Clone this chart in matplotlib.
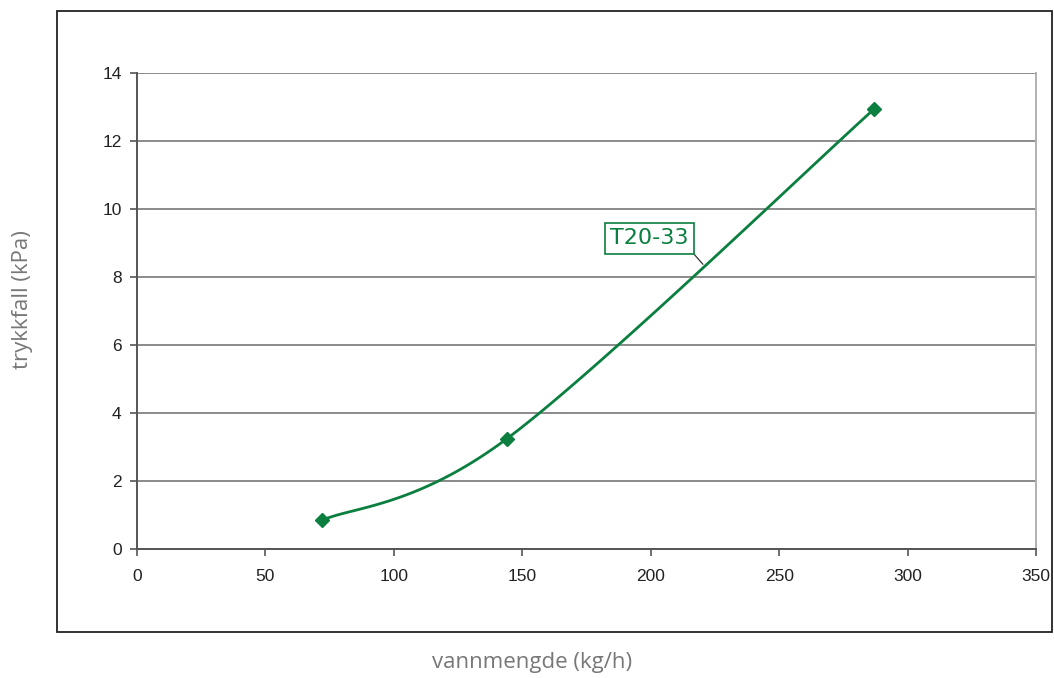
import numpy as np
import matplotlib.pyplot as plt
from matplotlib.patches import Rectangle

# data
vannmengde = [72, 144, 287]
trykkfall = [0.85, 3.25, 12.95]
serie_navn = 'T20-33'
x_ticks = [0, 50, 100, 150, 200, 250, 300, 350]
y_ticks = [0, 2, 4, 6, 8, 10, 12, 14]

green = '#0a7f3f'


def smooth_curve(ax, xs, ys, n=60):
	# Excel-like smoothed line: Catmull-Rom bezier in screen space
	pts = ax.transData.transform(np.column_stack([xs, ys]))
	p = np.vstack([pts[0], pts, pts[-1]])
	out = []
	t = np.linspace(0, 1, n)[:, None]
	for i in range(1, len(p) - 2):
		p0, p1, p2, p3 = p[i - 1], p[i], p[i + 1], p[i + 2]
		c1 = p1 + (p2 - p0) / 6
		c2 = p2 - (p3 - p1) / 6
		seg = (1 - t) ** 3 * p1 + 3 * (1 - t) ** 2 * t * c1 + 3 * (1 - t) * t ** 2 * c2 + t ** 3 * p2
		out.append(seg)
	curve = np.vstack(out)
	return ax.transData.inverted().transform(curve)


fig = plt.figure(figsize=(10.54, 6.78), dpi=100)
ax = fig.add_axes([0.130, 0.190, 0.853, 0.702])

ax.set_xlim(0, 350)
ax.set_ylim(0, 14)
ax.set_xticks(x_ticks)
ax.set_yticks(y_ticks)
ax.tick_params(labelsize=12.5, colors='#555555', labelcolor='#222222', length=5, width=1.2)
ax.tick_params(axis='x', pad=9)
ax.tick_params(axis='y', pad=6)
for lbl in ax.get_xticklabels() + ax.get_yticklabels():
	lbl.set_family('Liberation Sans')
ax.yaxis.grid(True, color='#8a8a8a', lw=1.4)
ax.set_axisbelow(True)
for side in ['left', 'bottom']:
	ax.spines[side].set_color('#555555')
	ax.spines[side].set_linewidth(1.4)
ax.spines['right'].set_color('#b0b0b0')
ax.spines['right'].set_linewidth(1.4)
ax.spines['top'].set_visible(False)

fig.canvas.draw()
curve = smooth_curve(ax, vannmengde, trykkfall)
ax.plot(curve[:, 0], curve[:, 1], color=green, lw=2, clip_on=False)
ax.plot(vannmengde, trykkfall, linestyle='none', marker='D', markersize=7,
		color=green, clip_on=False)

# series label with leader line from the box corner
ax.annotate(serie_navn, xy=(220.3, 8.38), xytext=(199.5, 9.15),
			ha='center', va='center', fontsize=16, color=green,
			bbox=dict(boxstyle='square,pad=0.25', fc='white', ec=green, lw=1.2),
			arrowprops=dict(arrowstyle='-', color='#333333', lw=0.9,
							shrinkA=0, shrinkB=0, relpos=(1, 0)))

fig.text(0.505, 0.023, 'vannmengde (kg/h)', ha='center', va='center',
		 fontsize=16, color='#777777', family='Open Sans')
fig.text(0.021, 0.558, 'trykkfall (kPa)', ha='center', va='center', rotation=90,
		 fontsize=16, color='#777777', family='Open Sans')

fig.patches.append(Rectangle((0.054, 0.068), 0.944, 0.916, transform=fig.transFigure,
							 fill=False, ec='#222222', lw=1.3))

fig.savefig('out.png', dpi=100)
